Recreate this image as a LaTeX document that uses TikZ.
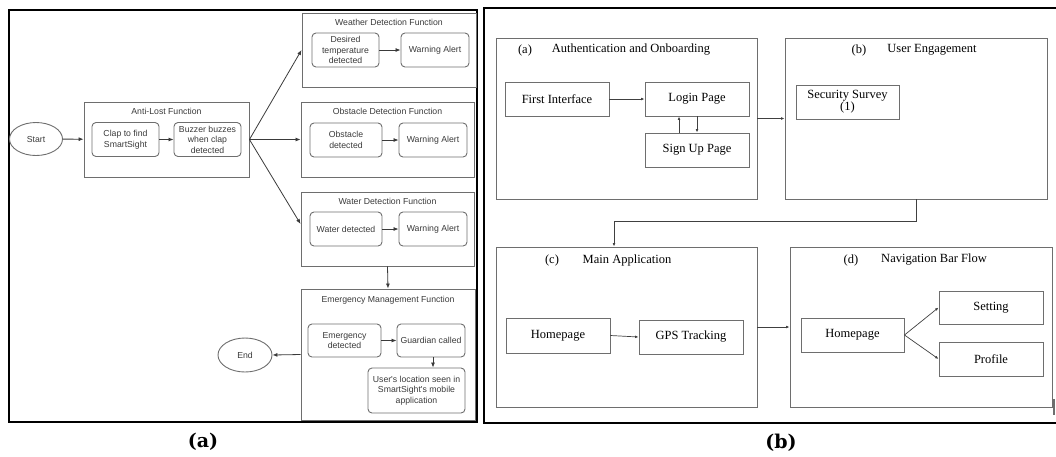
\documentclass[tikz,border=0pt]{standalone}
\usepackage{fontspec}
\setmainfont{Liberation Serif}
\newfontfamily\flowfont{Liberation Sans}
\newfontfamily\capfont{DejaVu Serif}
\usetikzlibrary{arrows.meta,positioning,shapes.geometric}
\definecolor{boxgray}{HTML}{6E6E6E}
\definecolor{txtgray}{HTML}{3A3A3A}

\begin{document}
\begin{tikzpicture}[x=1pt,y=-1pt,
        frame/.style={line width=1.7pt,black},
        group/.style={draw=boxgray,line width=0.9pt,rectangle,inner sep=0pt},
        stepbox/.style={draw=boxgray,line width=0.9pt,rounded corners=4pt,align=center,
            text=txtgray,font=\flowfont\fontsize{8.7}{10.5}\selectfont,inner sep=1pt,
            minimum width=67pt,minimum height=34pt},
        oval/.style={draw=boxgray,line width=0.9pt,ellipse,text=txtgray,
            font=\flowfont\fontsize{8.7}{10.5}\selectfont,minimum width=53pt,minimum height=33pt},
        gtitle/.style={text=txtgray,font=\flowfont\fontsize{8.7}{10.5}\selectfont,inner sep=0pt},
        pagebox/.style={draw=boxgray,line width=0.9pt,rectangle,align=center,
            font=\fontsize{12.5}{12}\selectfont,inner sep=1pt,
            minimum width=104pt,minimum height=34pt},
        ptitle/.style={font=\fontsize{12.5}{12}\selectfont,inner sep=0pt},
        arr/.style={-{Latex[length=5pt,width=4pt]},draw=txtgray,line width=0.8pt},
        parr/.style={-{Latex[length=3.5pt,width=2.8pt]},draw=black!75,line width=0.7pt}]
    \useasboundingbox (0,0) rectangle (1056,456);

    % ---- (a) frame
    \draw[frame] (9,10) rectangle (477,422);
    \node[font=\capfont\bfseries\fontsize{19}{20}\selectfont] (capa) at (203,442) {(a)};

    \node[oval] (start) at (36,139) {Start};

    \node[group,minimum width=165pt,minimum height=75pt] (antilost) at (166.5,139.5) {};
    \node[gtitle] (antilostT) at (166.5,111) {Anti-Lost Function};
    \node[stepbox] (clap) at (125.5,139.5) {Clap to find\\SmartSight};
    \node[stepbox] (buzz) at (207.5,139.5) {Buzzer buzzes\\when clap\\detected};

    \node[group,minimum width=174pt,minimum height=74pt] (weather) at (389,50) {};
    \node[gtitle] (weatherT) at (389,22) {Weather Detection Function};
    \node[stepbox] (desired) at (345.5,50) {Desired\\temperature\\detected};
    \node[stepbox,minimum width=68pt] (warnA) at (435,50) {Warning Alert};

    \node[group,minimum width=173pt,minimum height=75pt] (obstacle) at (387.5,139.5) {};
    \node[gtitle] (obstacleT) at (387.5,111) {Obstacle Detection Function};
    \node[stepbox,minimum width=72pt] (obsdet) at (346,140) {Obstacle\\detected};
    \node[stepbox,minimum width=68pt] (warnB) at (433,140) {Warning Alert};

    \node[group,minimum width=173pt,minimum height=74pt] (water) at (387.5,229) {};
    \node[gtitle] (waterT) at (387.5,201) {Water Detection Function};
    \node[stepbox,minimum width=72pt] (watdet) at (346,229) {Water detected};
    \node[stepbox,minimum width=68pt] (warnC) at (433,229) {Warning Alert};

    \node[group,minimum width=174pt,minimum height=131pt] (emerg) at (388,354.5) {};
    \node[gtitle] (emergT) at (388,300) {Emergency Management Function};
    \node[stepbox,minimum width=73pt,minimum height=33pt] (emdet) at (344.5,340.5) {Emergency\\detected};
    \node[stepbox,minimum width=68pt,minimum height=33pt] (guard) at (431,340.5) {Guardian called};
    \node[stepbox,minimum width=97pt,minimum height=45pt] (userloc) at (416.5,390.5)
        {User's location seen in\\SmartSight's mobile\\application};

    \node[oval,minimum width=54pt,minimum height=34pt] (finish) at (245,355) {End};

    \draw[arr] (start) -- (antilost);
    \draw[arr] (clap) -- (buzz);
    \draw[arr] (antilost.east) -- (weather.west);
    \draw[arr] (antilost.east) -- (obstacle.west);
    \draw[arr] (antilost.east) -- ([yshift=5pt]water.west);
    \draw[arr] (desired) -- (warnA);
    \draw[arr] (obsdet) -- (warnB);
    \draw[arr] (watdet) -- (warnC);
    \draw[arr] (water.south) -- (emerg.north);
    \draw[arr] (emdet) -- (guard);
    \draw[arr] ([xshift=2pt]guard.south) -- ([xshift=2pt]guard.south |- userloc.north);
    \draw[arr] (emerg.west) -- (finish.east);

    % ---- (b) frame
    \draw[frame] (1056,8) -- (484,8) -- (484,423) -- (1056,423);
    \draw[line width=1.2pt,boxgray] (1054,399) -- (1054,415);
    \node[font=\capfont\bfseries\fontsize{19}{20}\selectfont] (capb) at (781,443) {(b)};

    \node[group,minimum width=261pt,minimum height=161pt] (auth) at (626.5,118.5) {};
    \node[ptitle] (authN) at (525,50) {(a)};
    \node[ptitle] (authT) at (631,50) {Authentication and Onboarding};
    \node[pagebox] (first) at (557,99) {First Interface};
    \node[pagebox] (login) at (697,99) {Login Page};
    \node[pagebox] (signup) at (697,150) {Sign Up Page};

    \node[group,minimum width=262pt,minimum height=161pt] (engage) at (916,118.5) {};
    \node[ptitle] (engageN) at (859,50) {(b)};
    \node[ptitle] (engageT) at (932,50) {User Engagement};
    \node[pagebox,minimum width=103pt] (survey) at (847.5,102) {Security Survey\\(1)};

    \node[group,minimum width=261pt,minimum height=160pt] (mainapp) at (626.5,327) {};
    \node[ptitle] (mainappN) at (552,260) {(c)};
    \node[ptitle] (mainappT) at (627,260) {Main Application};
    \node[pagebox,minimum height=35pt] (homeA) at (558,335.5) {Homepage};
    \node[pagebox] (gps) at (691,337) {GPS Tracking};

    \node[group,minimum width=262pt,minimum height=160pt] (navbar) at (921,327) {};
    \node[ptitle] (navbarN) at (851,260) {(d)};
    \node[ptitle] (navbarT) at (934,260) {Navigation Bar Flow};
    \node[pagebox,minimum width=103pt] (homeB) at (852.5,335) {Homepage};
    \node[pagebox,minimum height=33pt] (setting) at (991,307.5) {Setting};
    \node[pagebox] (profile) at (991,359) {Profile};

    \coordinate (bend) at (614,221);

    \draw[parr] (first) -- (login);
    \draw[parr] ([xshift=-18pt]signup.north) -- ([xshift=-18pt]login.south);
    \draw[parr] (login) -- (signup);
    \draw[parr] (auth.east) -- (engage.west);
    \draw[parr] (engage.south) |- (bend) -- (bend |- mainapp.north);
    \draw[parr] (homeA.east) -- (gps.west);
    \draw[parr] (mainapp.east) -- (navbar.west);
    \draw[parr] (homeB.east) -- (setting.west);
    \draw[parr] (homeB.east) -- (profile.west);
\end{tikzpicture}
\end{document}
